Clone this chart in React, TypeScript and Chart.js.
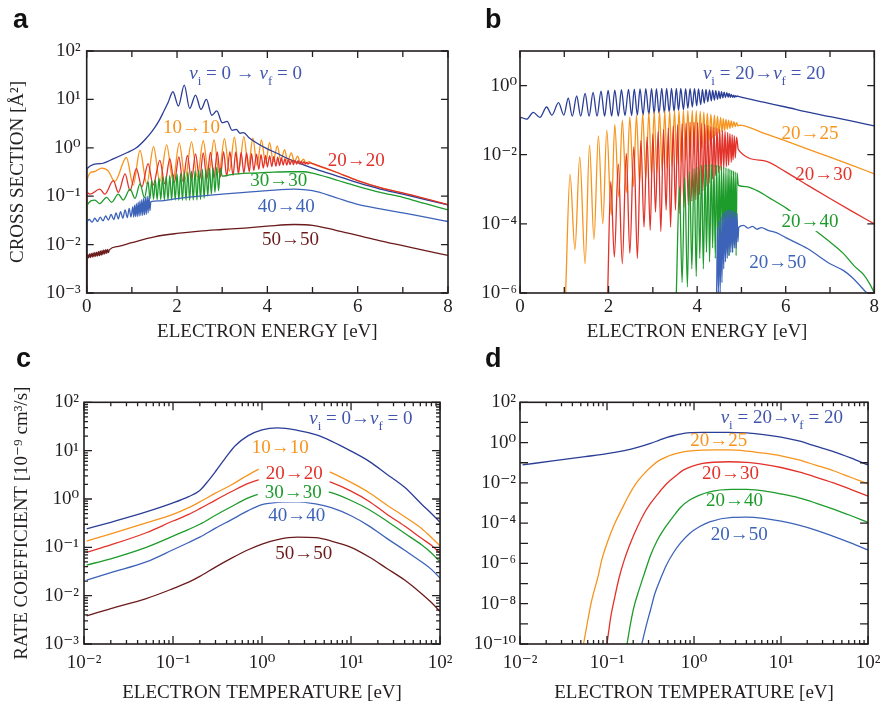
import React, { useEffect, useRef } from 'react';
import { Chart, registerables } from 'chart.js';
Chart.register(...registerables);

type P = [number, number];
const SERIF = "'Liberation Serif', 'DejaVu Serif', serif";
const INK = '#231f20';
const COL = {
  dblue: '#2a3d97', lblue: '#3d63b9', orange: '#f7941d', red: '#e2322a',
  green: '#1d9b2b', brown: '#6b1b1b', tblue: '#4256ad',
};

// ---------------- Panel a : cross sections, vi = vf ----------------
const aE_00: P[] = [[0,0.001],[0.005,0.37],[0.3,0.47],[0.6,0.6],[0.9,0.8],[1.1,1.0],[1.3,1.5],[1.45,2.2],[1.6,3.6],[1.7,5.5],[1.8,8.5],[1.91,14.4],[2.03,7.3],[2.16,19.8],[2.28,6.5],[2.41,12.3],[2.53,6.2],[2.65,10],[2.77,4.7],[2.88,5.8],[3.0,3.3],[3.11,3.5],[3.22,2.3],[3.31,2.4],[3.4,2.0],[3.47,2.05],[3.6,1.6],[3.8,1.2],[4.0,0.95],[4.2,0.78],[4.4,0.63],[4.7,0.48],[5.0,0.38],[5.5,0.27],[6.0,0.19],[6.5,0.14],[7.0,0.11],[7.5,0.085],[8.0,0.066]];
const aE_10: P[] = [[0,0.001],[0.005,0.21],[0.15,0.32],[0.33,0.38],[0.48,0.33],[0.62,0.2],[0.88,0.63],[1.03,0.17],[1.18,0.88],[1.33,0.18],[1.48,1.05],[1.62,0.2],[1.77,1.15],[1.91,0.21],[2.05,1.25],[2.18,0.23],[2.32,1.32],[2.45,0.25],[2.58,1.4],[2.7,0.28],[2.82,1.45],[2.93,0.3],[3.05,1.55],[3.16,0.33],[3.27,1.65],[3.37,0.36],[3.48,1.7],[3.58,0.4],[3.68,1.6],[3.77,0.44],[3.87,1.45],[3.96,0.48],[4.05,1.3],[4.13,0.52],[4.22,1.1],[4.3,0.54],[4.38,0.92],[4.45,0.53],[4.53,0.78],[4.6,0.51],[4.67,0.67],[4.73,0.49],[4.8,0.58],[4.86,0.48],[4.92,0.52],[5.0,0.47],[5.5,0.32],[6.0,0.21],[6.5,0.15],[7.0,0.115],[7.5,0.088],[8.0,0.066]];
const aE_20: P[] = [[0,0.001],[0.005,0.12],[0.07,0.11],[0.29,0.14],[0.4,0.11],[0.59,0.21],[0.7,0.12],[0.85,0.29],[0.96,0.13],[1.1,0.37],[1.22,0.155],[1.36,0.47],[1.47,0.17],[1.62,0.55],[1.73,0.18],[1.84,0.6],[1.94,0.19],[2.04,0.65],[2.13,0.2],[2.23,0.7],[2.32,0.21],[2.41,0.75],[2.5,0.22],[2.58,0.78],[2.66,0.23],[2.74,0.8],[2.82,0.24],[2.89,0.82],[2.96,0.25],[3.03,0.83],[3.1,0.26],[3.17,0.83],[3.24,0.27],[3.3,0.82],[3.36,0.29],[3.42,0.8],[3.48,0.3],[3.54,0.78],[3.6,0.32],[3.65,0.76],[3.7,0.34],[3.76,0.74],[3.81,0.36],[3.86,0.72],[3.91,0.38],[3.96,0.7],[4.0,0.4],[4.05,0.68],[4.1,0.41],[4.14,0.66],[4.19,0.42],[4.23,0.64],[4.27,0.43],[4.31,0.62],[4.35,0.44],[4.39,0.6],[4.43,0.44],[4.47,0.58],[4.5,0.45],[4.54,0.56],[4.58,0.45],[4.61,0.55],[4.65,0.46],[4.68,0.54],[4.72,0.46],[4.75,0.53],[4.78,0.46],[4.81,0.52],[4.84,0.46],[4.87,0.5],[4.9,0.46],[4.93,0.49],[5.0,0.47],[5.5,0.32],[6.0,0.21],[6.5,0.15],[7.0,0.117],[7.5,0.089],[8.0,0.067]];
const aE_30: P[] = [[0,0.001],[0.005,0.064],[0.18,0.083],[0.29,0.07],[0.44,0.095],[0.55,0.075],[0.7,0.11],[0.81,0.083],[0.96,0.14],[1.07,0.09],[1.18,0.18],[1.28,0.093],[1.36,0.2],[1.4,0.088],[1.44,0.21],[1.48,0.086],[1.52,0.22],[1.56,0.085],[1.6,0.24],[1.64,0.085],[1.68,0.25],[1.72,0.084],[1.76,0.26],[1.8,0.084],[1.84,0.27],[1.88,0.083],[1.92,0.28],[1.96,0.083],[2.0,0.29],[2.04,0.082],[2.08,0.3],[2.12,0.082],[2.16,0.31],[2.2,0.082],[2.24,0.32],[2.28,0.082],[2.32,0.33],[2.36,0.083],[2.4,0.34],[2.44,0.084],[2.48,0.35],[2.52,0.086],[2.56,0.36],[2.6,0.09],[2.64,0.37],[2.68,0.1],[2.72,0.38],[2.76,0.11],[2.8,0.39],[2.84,0.12],[2.88,0.4],[2.92,0.13],[2.96,0.38],[3.0,0.26],[3.2,0.28],[3.6,0.3],[4.0,0.31],[4.5,0.32],[4.8,0.32],[5.0,0.3],[5.5,0.22],[6.0,0.16],[6.5,0.12],[7.0,0.095],[7.5,0.07],[8.0,0.052]];
const aE_40: P[] = [[0,0.001],[0.005,0.028],[0.06,0.033],[0.12,0.029],[0.18,0.035],[0.24,0.03],[0.3,0.037],[0.36,0.031],[0.42,0.039],[0.48,0.032],[0.54,0.042],[0.6,0.033],[0.65,0.045],[0.7,0.034],[0.75,0.048],[0.8,0.035],[0.85,0.052],[0.9,0.036],[0.94,0.056],[0.98,0.037],[1.02,0.06],[1.04,0.037],[1.06,0.065],[1.08,0.038],[1.1,0.07],[1.12,0.038],[1.14,0.075],[1.16,0.039],[1.18,0.08],[1.2,0.04],[1.22,0.085],[1.24,0.04],[1.26,0.09],[1.28,0.041],[1.3,0.095],[1.32,0.042],[1.34,0.1],[1.36,0.045],[1.38,0.1],[1.4,0.05],[1.42,0.077],[1.6,0.08],[2.0,0.089],[2.5,0.1],[3.0,0.11],[3.5,0.12],[4.0,0.13],[4.6,0.14],[5.0,0.13],[5.5,0.095],[6.0,0.068],[6.5,0.055],[7.0,0.045],[7.5,0.037],[8.0,0.03]];
const aE_50: P[] = [[0,0.001],[0.005,0.0055],[0.02,0.0062],[0.04,0.0053],[0.06,0.0064],[0.08,0.0054],[0.1,0.0066],[0.12,0.0055],[0.14,0.0067],[0.16,0.0056],[0.18,0.0069],[0.2,0.0057],[0.22,0.007],[0.24,0.0058],[0.26,0.0072],[0.28,0.0059],[0.3,0.0074],[0.32,0.006],[0.34,0.0076],[0.36,0.0062],[0.38,0.0078],[0.4,0.0064],[0.42,0.0079],[0.44,0.0066],[0.46,0.008],[0.48,0.0068],[0.5,0.0078],[0.7,0.0092],[1.0,0.011],[1.5,0.0145],[2.0,0.017],[2.5,0.019],[3.0,0.0205],[3.5,0.022],[4.0,0.024],[4.6,0.026],[5.0,0.025],[5.5,0.02],[6.0,0.0155],[6.5,0.012],[7.0,0.0095],[7.5,0.0075],[8.0,0.006]];

// ---------------- Panel b : cross sections, vi = 20 ----------------
const bE_20: P[] = [[0,0.000001],[0.005,0.12],[0.15,0.107],[0.3,0.167],[0.45,0.12],[0.6,0.24],[0.72,0.14],[0.87,0.32],[0.99,0.14],[1.09,0.43],[1.18,0.13],[1.28,0.5],[1.37,0.13],[1.47,0.59],[1.56,0.13],[1.65,0.63],[1.74,0.13],[1.83,0.69],[1.91,0.13],[1.99,0.72],[2.07,0.13],[2.14,0.74],[2.22,0.13],[2.29,0.76],[2.37,0.135],[2.45,0.78],[2.52,0.135],[2.58,0.79],[2.65,0.14],[2.71,0.8],[2.78,0.14],[2.84,0.81],[2.91,0.145],[2.97,0.82],[3.03,0.15],[3.08,0.82],[3.14,0.155],[3.2,0.83],[3.26,0.16],[3.31,0.83],[3.37,0.17],[3.42,0.83],[3.48,0.18],[3.53,0.83],[3.58,0.19],[3.63,0.83],[3.69,0.2],[3.74,0.82],[3.79,0.22],[3.84,0.82],[3.89,0.24],[3.94,0.81],[3.99,0.26],[4.03,0.8],[4.08,0.28],[4.12,0.78],[4.16,0.31],[4.2,0.77],[4.24,0.34],[4.28,0.75],[4.32,0.36],[4.35,0.73],[4.39,0.38],[4.42,0.71],[4.46,0.4],[4.49,0.69],[4.52,0.42],[4.55,0.67],[4.58,0.44],[4.61,0.65],[4.64,0.45],[4.67,0.62],[4.7,0.46],[4.72,0.59],[4.75,0.46],[4.77,0.56],[4.8,0.46],[4.82,0.53],[4.84,0.46],[4.86,0.51],[4.88,0.47],[4.9,0.5],[4.95,0.48],[5.5,0.33],[6.0,0.24],[6.5,0.17],[7.0,0.126],[7.5,0.093],[8.0,0.068]];
const bE_25: P[] = [[1.03,0.000001],[1.13,0.0027],[1.24,0.000018],[1.35,0.0087],[1.47,0.000007],[1.57,0.019],[1.67,0.000035],[1.77,0.035],[1.87,0.0001],[1.96,0.051],[2.06,0.00018],[2.14,0.075],[2.23,0.0006],[2.31,0.1],[2.4,0.0008],[2.48,0.125],[2.56,0.0012],[2.63,0.14],[2.7,0.0015],[2.77,0.155],[2.84,0.002],[2.91,0.165],[2.97,0.0025],[3.03,0.175],[3.09,0.003],[3.15,0.18],[3.21,0.0035],[3.27,0.183],[3.32,0.004],[3.38,0.186],[3.43,0.0045],[3.49,0.188],[3.54,0.005],[3.59,0.19],[3.64,0.006],[3.69,0.19],[3.74,0.007],[3.79,0.19],[3.84,0.008],[3.89,0.19],[3.93,0.01],[3.98,0.185],[4.02,0.012],[4.07,0.18],[4.11,0.015],[4.15,0.17],[4.19,0.02],[4.23,0.16],[4.27,0.025],[4.31,0.15],[4.35,0.03],[4.39,0.14],[4.42,0.035],[4.46,0.13],[4.49,0.04],[4.53,0.12],[4.56,0.045],[4.59,0.11],[4.62,0.05],[4.65,0.105],[4.68,0.055],[4.71,0.1],[4.74,0.058],[4.77,0.095],[4.8,0.062],[4.83,0.09],[4.86,0.065],[4.89,0.085],[4.92,0.068],[4.95,0.072],[5.5,0.042],[6.0,0.025],[6.5,0.0145],[7.0,0.0085],[7.5,0.0049],[8.0,0.0028]];
const bE_30: P[] = [[1.98,0.000001],[2.05,0.0017],[2.13,0.000011],[2.22,0.0054],[2.31,0.000007],[2.4,0.011],[2.48,0.000014],[2.57,0.017],[2.65,0.00001],[2.73,0.026],[2.8,0.00008],[2.87,0.033],[2.94,0.000065],[3.0,0.04],[3.06,0.00022],[3.12,0.047],[3.18,0.00006],[3.24,0.054],[3.3,0.00025],[3.35,0.06],[3.4,0.00008],[3.46,0.068],[3.51,0.00025],[3.56,0.074],[3.61,0.0002],[3.66,0.079],[3.7,0.0003],[3.75,0.083],[3.8,0.00035],[3.84,0.087],[3.88,0.00045],[3.93,0.087],[3.97,0.0005],[4.01,0.085],[4.05,0.0007],[4.09,0.081],[4.13,0.0009],[4.17,0.076],[4.2,0.0012],[4.24,0.071],[4.27,0.0015],[4.31,0.066],[4.35,0.002],[4.38,0.062],[4.41,0.0025],[4.45,0.058],[4.48,0.003],[4.51,0.054],[4.54,0.0035],[4.57,0.05],[4.6,0.004],[4.63,0.047],[4.66,0.0045],[4.69,0.044],[4.71,0.005],[4.74,0.041],[4.77,0.006],[4.79,0.038],[4.81,0.007],[4.84,0.035],[4.86,0.008],[4.89,0.032],[4.93,0.014],[5.5,0.0067],[6.0,0.0032],[6.5,0.0013],[7.0,0.00054],[7.5,0.00023],[8.0,0.0001]];
const bE_40: P[] = [[3.53,0.000001],[3.6,0.0012],[3.66,0.000002],[3.72,0.0022],[3.78,0.0000015],[3.83,0.0032],[3.88,0.000005],[3.93,0.004],[3.98,0.000003],[4.02,0.0045],[4.06,0.00001],[4.1,0.005],[4.14,0.000005],[4.18,0.0052],[4.21,0.000015],[4.25,0.0053],[4.28,0.000008],[4.32,0.0053],[4.35,0.00002],[4.38,0.0052],[4.41,0.00001],[4.44,0.005],[4.47,0.000025],[4.5,0.0048],[4.52,0.000012],[4.55,0.0046],[4.58,0.00003],[4.6,0.0044],[4.63,0.000015],[4.65,0.0042],[4.67,0.00003],[4.7,0.004],[4.72,0.000012],[4.74,0.0038],[4.76,0.00003],[4.78,0.0036],[4.8,0.000015],[4.82,0.0034],[4.84,0.000025],[4.86,0.0032],[4.88,0.000012],[4.9,0.003],[4.93,0.0013],[5.1,0.0012],[5.34,0.00093],[5.7,0.0005],[6.02,0.00028],[6.3,0.00015],[6.62,0.000072],[7.0,0.00003],[7.3,0.000014],[7.55,0.000006],[7.75,0.0000035],[7.9,0.0000018],[8.0,0.000001]];
const bE_50: P[] = [[4.44,0.000001],[4.46,0.00008],[4.48,0.000001],[4.5,0.00012],[4.52,0.000001],[4.54,0.00016],[4.56,0.000002],[4.58,0.0002],[4.6,0.000005],[4.62,0.00022],[4.64,0.000008],[4.66,0.00024],[4.68,0.00001],[4.7,0.00025],[4.72,0.000012],[4.74,0.00025],[4.76,0.000015],[4.78,0.00024],[4.8,0.000015],[4.82,0.00023],[4.84,0.00002],[4.86,0.00022],[4.88,0.00002],[4.9,0.0002],[4.92,0.00003],[4.94,0.00008],[5.05,0.00009],[5.15,0.000075],[5.25,0.000085],[5.35,0.00007],[5.45,0.000078],[5.6,0.000065],[5.8,0.000055],[6.0,0.00004],[6.5,0.000019],[7.0,0.000007],[7.3,0.0000045],[7.5,0.0000028],[7.83,0.000001]];

// ---------------- Panel c : rate coefficients, vi = vf ----------------
const cT_00 = [0.0107, 0.02, 0.05, 0.1, 0.15, 0.2, 0.25, 0.3, 0.4, 0.5, 0.7, 1, 1.5, 2.5, 4, 6, 10, 16, 25, 40, 63, 80, 100];
const cK_00 = [0.24, 0.33, 0.54, 0.83, 1.12, 1.5, 2.4, 3.7, 7.6, 12.6, 20.4, 26.9, 29.5, 26.3, 21.4, 15.8, 9.8, 6.0, 3.3, 1.74, 0.76, 0.5, 0.33];
const cT = [0.0107, 0.02, 0.05, 0.1, 0.15, 0.2, 0.3, 0.45, 0.7, 1, 1.5, 2.5, 4, 6, 10, 16, 25, 40, 63, 80, 100];
const cK_10 = [0.135, 0.19, 0.32, 0.48, 0.66, 0.87, 1.32, 1.95, 3.16, 4.4, 5.1, 5.2, 4.6, 3.5, 2.2, 1.35, 0.76, 0.43, 0.24, 0.16, 0.107];
const cK_20 = [0.079, 0.112, 0.2, 0.35, 0.48, 0.63, 0.95, 1.41, 2.1, 2.6, 2.9, 2.95, 2.75, 2.2, 1.45, 0.89, 0.49, 0.275, 0.15, 0.11, 0.076];
const cK_30 = [0.043, 0.058, 0.1, 0.17, 0.235, 0.3, 0.46, 0.69, 1.05, 1.32, 1.55, 1.66, 1.58, 1.35, 0.93, 0.6, 0.355, 0.195, 0.11, 0.076, 0.05];
const cK_40 = [0.021, 0.03, 0.05, 0.089, 0.126, 0.162, 0.25, 0.37, 0.575, 0.76, 0.85, 0.87, 0.79, 0.66, 0.45, 0.275, 0.155, 0.087, 0.049, 0.035, 0.023];
const cK_50 = [0.0038, 0.0054, 0.0087, 0.014, 0.019, 0.025, 0.039, 0.059, 0.089, 0.117, 0.145, 0.162, 0.158, 0.135, 0.1, 0.063, 0.037, 0.021, 0.0107, 0.0072, 0.0047];

// ---------------- Panel d : rate coefficients, vi = 20 ----------------
const dT_20 = [0.0107, 0.025, 0.056, 0.1, 0.158, 0.224, 0.316, 0.4, 0.49, 0.63, 0.76, 1.26, 2.5, 4, 6.3, 10, 16, 25, 40, 63, 100];
const dK_20 = [0.078, 0.126, 0.2, 0.28, 0.4, 0.575, 0.91, 1.32, 1.82, 2.4, 2.9, 3.24, 3.24, 3.0, 2.5, 1.86, 1.2, 0.66, 0.355, 0.174, 0.078];
const dT_25 = [0.0537, 0.0603, 0.0668, 0.0794, 0.087, 0.1, 0.123, 0.148, 0.174, 0.214, 0.269, 0.331, 0.407, 0.5, 0.63, 0.98, 1.78, 2.5, 4, 6.3, 10, 16, 25, 40, 63, 100];
const dK_25 = [1e-10, 1.6e-9, 1.5e-8, 2.5e-7, 1.5e-6, 1e-5, 9.8e-5, 5e-4, 2e-3, 8.9e-3, 0.0295, 0.071, 0.138, 0.21, 0.295, 0.4, 0.43, 0.43, 0.38, 0.3, 0.22, 0.138, 0.076, 0.04, 0.019, 0.0089];
const dT_30 = [0.1, 0.11, 0.123, 0.138, 0.158, 0.19, 0.224, 0.269, 0.316, 0.4, 0.49, 0.63, 0.76, 1.26, 2.5, 4, 6.3, 10, 16, 25, 40, 63, 100];
const dK_30 = [1e-10, 2e-9, 2.2e-8, 2e-7, 1.5e-6, 1.3e-5, 6.6e-5, 3.2e-4, 9.5e-4, 3.5e-3, 9.5e-3, 0.024, 0.044, 0.093, 0.112, 0.105, 0.083, 0.058, 0.035, 0.0195, 0.01, 0.0048, 0.0022];
const dT_40 = [0.17, 0.186, 0.204, 0.234, 0.269, 0.316, 0.38, 0.468, 0.575, 0.708, 0.89, 1.51, 2.75, 4, 6.3, 10, 16, 25, 40, 63, 100];
const dK_40 = [1e-10, 1e-9, 7e-9, 5e-8, 3.2e-7, 2.5e-6, 1.45e-5, 6.3e-5, 2.1e-4, 6.3e-4, 1.4e-3, 3.6e-3, 4.8e-3, 4.7e-3, 4e-3, 2.8e-3, 1.8e-3, 1e-3, 5e-4, 2.4e-4, 1.1e-4];
const dT_50 = [0.251, 0.282, 0.316, 0.355, 0.407, 0.479, 0.575, 0.708, 0.89, 1.15, 1.51, 2.75, 4, 6.3, 10, 16, 25, 40, 63, 100];
const dK_50 = [1e-10, 8e-10, 4.9e-9, 3.2e-8, 1.5e-7, 7.9e-7, 3.2e-6, 1.1e-5, 3.1e-5, 6.6e-5, 1.17e-4, 1.95e-4, 2e-4, 1.74e-4, 1.26e-4, 7.9e-5, 4.5e-5, 2.2e-5, 1.05e-5, 4.7e-6];

// ---------------- ticks ----------------
const energyTicks = [0, 2, 4, 6, 8];
const energyMinor = [1, 3, 5, 7];
const aYTicks = [1e-3, 1e-2, 1e-1, 1, 10, 100];
const bYTicks = [1e-6, 1e-4, 1e-2, 1];
const tempTicks = [0.01, 0.1, 1, 10, 100];
const cYTicks = [1e-3, 1e-2, 1e-1, 1, 10, 100];
const dYLabeled = [1e-10, 1e-8, 1e-6, 1e-4, 1e-2, 1, 100];
const dYDecades = [1e-10, 1e-9, 1e-8, 1e-7, 1e-6, 1e-5, 1e-4, 1e-3, 1e-2, 1e-1, 1, 10, 100];

// ---------------- labels ----------------
type Lab = { x: number; y: number; text: string; color: string; bg?: boolean };
const aLabels: Lab[] = [
  { x: 3.52, y: 35, text: '*v*_{i} = 0 → *v*_{f} = 0', color: COL.tblue },
  { x: 2.32, y: 2.7, text: '10→10', color: COL.orange },
  { x: 5.97, y: 0.58, text: '20→20', color: COL.red },
  { x: 4.25, y: 0.22, text: '30→30', color: COL.green },
  { x: 4.42, y: 0.065, text: '40→40', color: COL.lblue },
  { x: 4.51, y: 0.0135, text: '50→50', color: COL.brown },
];
const bLabels: Lab[] = [
  { x: 5.51, y: 2.3, text: '*v*_{i} = 20→*v*_{f} = 20', color: COL.tblue },
  { x: 6.55, y: 0.042, text: '20→25', color: COL.orange },
  { x: 6.86, y: 0.0029, text: '20→30', color: COL.red },
  { x: 6.55, y: 1.2e-4, text: '20→40', color: COL.green, bg: true },
  { x: 5.82, y: 8.1e-6, text: '20→50', color: COL.lblue },
];
const cLabels: Lab[] = [
  { x: 12.9, y: 48, text: '*v*_{i} = 0→*v*_{f} = 0', color: COL.tblue },
  { x: 1.6, y: 12, text: '10→10', color: COL.orange },
  { x: 2.3, y: 3.5, text: '20→20', color: COL.red, bg: true },
  { x: 2.24, y: 1.38, text: '30→30', color: COL.green, bg: true },
  { x: 2.45, y: 0.47, text: '40→40', color: COL.lblue },
  { x: 2.95, y: 0.076, text: '50→50', color: COL.brown },
];
const dLabels: Lab[] = [
  { x: 10.2, y: 18.6, text: '*v*_{i} = 20→*v*_{f} = 20', color: COL.tblue },
  { x: 1.93, y: 1.35, text: '20→25', color: COL.orange },
  { x: 2.63, y: 0.031, text: '20→30', color: COL.red },
  { x: 2.92, y: 1.4e-3, text: '20→40', color: COL.green },
  { x: 3.3, y: 2.9e-5, text: '20→50', color: COL.lblue },
];

// ---------------- helpers ----------------
const SUP: Record<string, string> = { '-': '⁻', '0': '⁰', '1': '¹', '2': '²', '3': '³', '4': '⁴', '5': '⁵', '6': '⁶', '7': '⁷', '8': '⁸', '9': '⁹' };
const powLabel = (v: number) => '10' + String(Math.round(Math.log10(v))).split('').map((c) => SUP[c]).join('');
const numLabel = (v: number) => String(v);
const logMinor = (decades: number[]) => {
  const out: number[] = [];
  for (let i = 0; i < decades.length - 1; i++) for (let m = 2; m <= 9; m++) out.push(m * decades[i]);
  return out;
};
const zipTK = (t: number[], k: number[]): P[] => t.map((v, i) => [v, k[i]]);

type Axis = {
  type: 'linear' | 'logarithmic'; min: number; max: number;
  labeled: number[]; major: number[]; minor: number[]; majorLen: number; minorLen: number;
  title?: string; titlePad: number; tickPad: number; size: number; fmt: (v: number) => string;
};
type Spec = {
  box: { left: number; top: number; width: number; height: number };
  padTop: number; padRight: number; x: Axis; y: Axis;
  series: { data: P[]; color: string }[]; labels: Lab[];
};

function segs(text: string) {
  const out: { t: string; it: boolean; sub: boolean }[] = [];
  const re = /\*([^*]+)\*|_\{([^}]+)\}|([^*_]+)/g;
  let m: RegExpExecArray | null;
  while ((m = re.exec(text))) {
    if (m[1]) out.push({ t: m[1], it: true, sub: false });
    else if (m[2]) out.push({ t: m[2], it: false, sub: true });
    else out.push({ t: m[3], it: false, sub: false });
  }
  return out;
}

function drawRich(ctx: CanvasRenderingContext2D, text: string, cx: number, cy: number, color: string, size: number, bg: boolean) {
  const parts = segs(text);
  const fontOf = (s: { it: boolean; sub: boolean }) => `${s.it ? 'italic ' : ''}${s.sub ? Math.round(size * 0.68) : size}px ${SERIF}`;
  let w = 0;
  const ws = parts.map((s) => { ctx.font = fontOf(s); const mw = ctx.measureText(s.t).width; w += mw; return mw; });
  ctx.save();
  if (bg) { ctx.fillStyle = '#ffffff'; ctx.fillRect(cx - w / 2 - 7, cy - 10, w + 14, 20); }
  ctx.fillStyle = color; ctx.textAlign = 'left'; ctx.textBaseline = 'alphabetic';
  let x = cx - w / 2;
  const base = cy + size * 0.33;
  parts.forEach((s, i) => { ctx.font = fontOf(s); ctx.fillText(s.t, x, base + (s.sub ? size * 0.3 : 0)); x += ws[i]; });
  ctx.restore();
}

function makeConfig(p: Spec): any {
  const deco = {
    id: 'deco',
    afterDatasetsDraw(chart: any) {
      const ctx = chart.ctx as CanvasRenderingContext2D;
      const xs = chart.scales.x, ys = chart.scales.y;
      p.labels.forEach((l) => drawRich(ctx, l.text, xs.getPixelForValue(l.x), ys.getPixelForValue(l.y), l.color, 19, !!l.bg));
    },
    afterDraw(chart: any) {
      const ctx = chart.ctx as CanvasRenderingContext2D;
      const { left, right, top, bottom } = chart.chartArea;
      const xs = chart.scales.x, ys = chart.scales.y;
      ctx.save();
      ctx.strokeStyle = INK; ctx.lineWidth = 1.3;
      ctx.beginPath();
      const xt = (v: number, len: number) => { const px = xs.getPixelForValue(v); ctx.moveTo(px, bottom); ctx.lineTo(px, bottom - len); ctx.moveTo(px, top); ctx.lineTo(px, top + len); };
      const yt = (v: number, len: number) => { const py = ys.getPixelForValue(v); ctx.moveTo(left, py); ctx.lineTo(left + len, py); ctx.moveTo(right, py); ctx.lineTo(right - len, py); };
      p.x.major.forEach((v) => xt(v, p.x.majorLen));
      p.x.minor.forEach((v) => xt(v, p.x.minorLen));
      p.y.major.forEach((v) => yt(v, p.y.majorLen));
      p.y.minor.forEach((v) => yt(v, p.y.minorLen));
      ctx.stroke();
      ctx.lineWidth = 1.6;
      ctx.strokeRect(left, top, right - left, bottom - top);
      ctx.restore();
    },
  };
  const axis = (a: Axis, isX: boolean) => ({
    type: a.type, min: a.min, max: a.max,
    grid: { display: false, drawTicks: false },
    border: { display: false },
    afterBuildTicks: (s: any) => { s.ticks = a.labeled.map((v) => ({ value: v })); },
    afterFit: (s: any) => { if (isX) s.height = a.size; else s.width = a.size; },
    ticks: {
      autoSkip: false, maxRotation: 0, minRotation: 0, padding: a.tickPad, color: INK,
      font: { family: SERIF, size: 19 },
      callback: (v: any) => a.fmt(Number(v)),
    },
    title: a.title
      ? { display: true, text: a.title, color: INK, font: { family: SERIF, size: 19 }, padding: isX ? { top: 0, bottom: a.titlePad } : { top: a.titlePad, bottom: 0 } }
      : { display: false },
  });
  return {
    type: 'line',
    data: {
      datasets: p.series.map((s) => ({
        data: s.data.map(([x, y]) => ({ x, y })),
        borderColor: s.color, borderWidth: 1.3, pointRadius: 0, fill: false,
        cubicInterpolationMode: 'monotone', borderJoinStyle: 'round',
      })),
    },
    options: {
      responsive: false, maintainAspectRatio: false, animation: false, events: [],
      layout: { padding: { top: p.padTop, right: p.padRight, left: 0, bottom: 0 } },
      plugins: { legend: { display: false }, tooltip: { enabled: false } },
      scales: { x: axis(p.x, true), y: axis(p.y, false) },
    },
    plugins: [deco],
  };
}

const energyAxis = (pad: number, size: number): Axis => ({
  type: 'linear', min: 0, max: 8, labeled: energyTicks, major: energyTicks, minor: energyMinor,
  majorLen: 7, minorLen: 6, title: 'ELECTRON ENERGY [eV]', titlePad: pad, tickPad: 3, size, fmt: numLabel,
});
const tempAxis = (): Axis => ({
  type: 'logarithmic', min: 0.01, max: 100, labeled: tempTicks, major: tempTicks, minor: logMinor(tempTicks),
  majorLen: 8, minorLen: 4, title: 'ELECTRON TEMPERATURE [eV]', titlePad: 0, tickPad: 7.6, size: 60, fmt: powLabel,
});

const PANELS: Spec[] = [
  {
    box: { left: 0, top: 0, width: 460, height: 350 }, padTop: 51, padRight: 12,
    x: energyAxis(7, 57),
    y: { type: 'logarithmic', min: 1e-3, max: 100, labeled: aYTicks, major: aYTicks, minor: [], majorLen: 7, minorLen: 4,
      title: 'CROSS SECTION [Å²]', titlePad: 7, tickPad: 6, size: 86.7, fmt: powLabel },
    series: [
      { data: aE_50, color: COL.brown }, { data: aE_40, color: COL.lblue }, { data: aE_30, color: COL.green },
      { data: aE_20, color: COL.red }, { data: aE_00, color: COL.dblue }, { data: aE_10, color: COL.orange },
    ],
    labels: aLabels,
  },
  {
    box: { left: 460, top: 0, width: 428, height: 350 }, padTop: 51, padRight: 13.7,
    x: energyAxis(7, 57),
    y: { type: 'logarithmic', min: 1e-6, max: 10, labeled: bYTicks, major: bYTicks, minor: [], majorLen: 7, minorLen: 4,
      titlePad: 0, tickPad: 3, size: 60, fmt: powLabel },
    series: [
      { data: bE_50, color: COL.lblue }, { data: bE_40, color: COL.green }, { data: bE_30, color: COL.red },
      { data: bE_25, color: COL.orange }, { data: bE_20, color: COL.dblue },
    ],
    labels: bLabels,
  },
  {
    box: { left: 0, top: 350, width: 460, height: 354 }, padTop: 52.3, padRight: 13.3,
    x: tempAxis(),
    y: { type: 'logarithmic', min: 1e-3, max: 100, labeled: cYTicks, major: cYTicks, minor: logMinor(cYTicks), majorLen: 8, minorLen: 4,
      title: 'RATE COEFFICIENT [10⁻⁹ cm³/s]', titlePad: 10.6, tickPad: 5, size: 84, fmt: powLabel },
    series: [
      { data: zipTK(cT, cK_50), color: COL.brown }, { data: zipTK(cT, cK_40), color: COL.lblue },
      { data: zipTK(cT, cK_30), color: COL.green }, { data: zipTK(cT, cK_20), color: COL.red },
      { data: zipTK(cT, cK_10), color: COL.orange }, { data: zipTK(cT_00, cK_00), color: COL.dblue },
    ],
    labels: cLabels,
  },
  {
    box: { left: 460, top: 350, width: 428, height: 354 }, padTop: 52.3, padRight: 12.7,
    x: tempAxis(),
    y: { type: 'logarithmic', min: 1e-10, max: 100, labeled: dYLabeled, major: dYDecades, minor: [], majorLen: 8, minorLen: 4,
      titlePad: 0, tickPad: 4, size: 60, fmt: powLabel },
    series: [
      { data: zipTK(dT_50, dK_50), color: COL.lblue }, { data: zipTK(dT_40, dK_40), color: COL.green },
      { data: zipTK(dT_30, dK_30), color: COL.red }, { data: zipTK(dT_25, dK_25), color: COL.orange },
      { data: zipTK(dT_20, dK_20), color: COL.dblue },
    ],
    labels: dLabels,
  },
];

const LETTERS = [
  { t: 'a', left: 13, top: 6 }, { t: 'b', left: 485, top: 6 },
  { t: 'c', left: 16, top: 345 }, { t: 'd', left: 485, top: 345 },
];

function Panel({ spec }: { spec: Spec }) {
  const ref = useRef<HTMLCanvasElement>(null);
  useEffect(() => {
    const chart = new Chart(ref.current as HTMLCanvasElement, makeConfig(spec));
    return () => chart.destroy();
  }, [spec]);
  const b = spec.box;
  return (
    <div style={{ position: 'absolute', left: b.left, top: b.top, width: b.width, height: b.height }}>
      <canvas ref={ref} width={b.width} height={b.height} style={{ width: b.width, height: b.height, display: 'block' }} />
    </div>
  );
}

export default function App() {
  return (
    <div style={{ position: 'absolute', left: 0, top: 0, width: 888, height: 704, background: '#ffffff', overflow: 'hidden' }}>
      {PANELS.map((p, i) => <Panel key={i} spec={p} />)}
      {LETTERS.map((l) => (
        <div key={l.t} style={{ position: 'absolute', left: l.left, top: l.top, font: "bold 27px 'Liberation Sans', Arial, sans-serif", lineHeight: '27px', color: '#111' }}>{l.t}</div>
      ))}
    </div>
  );
}
